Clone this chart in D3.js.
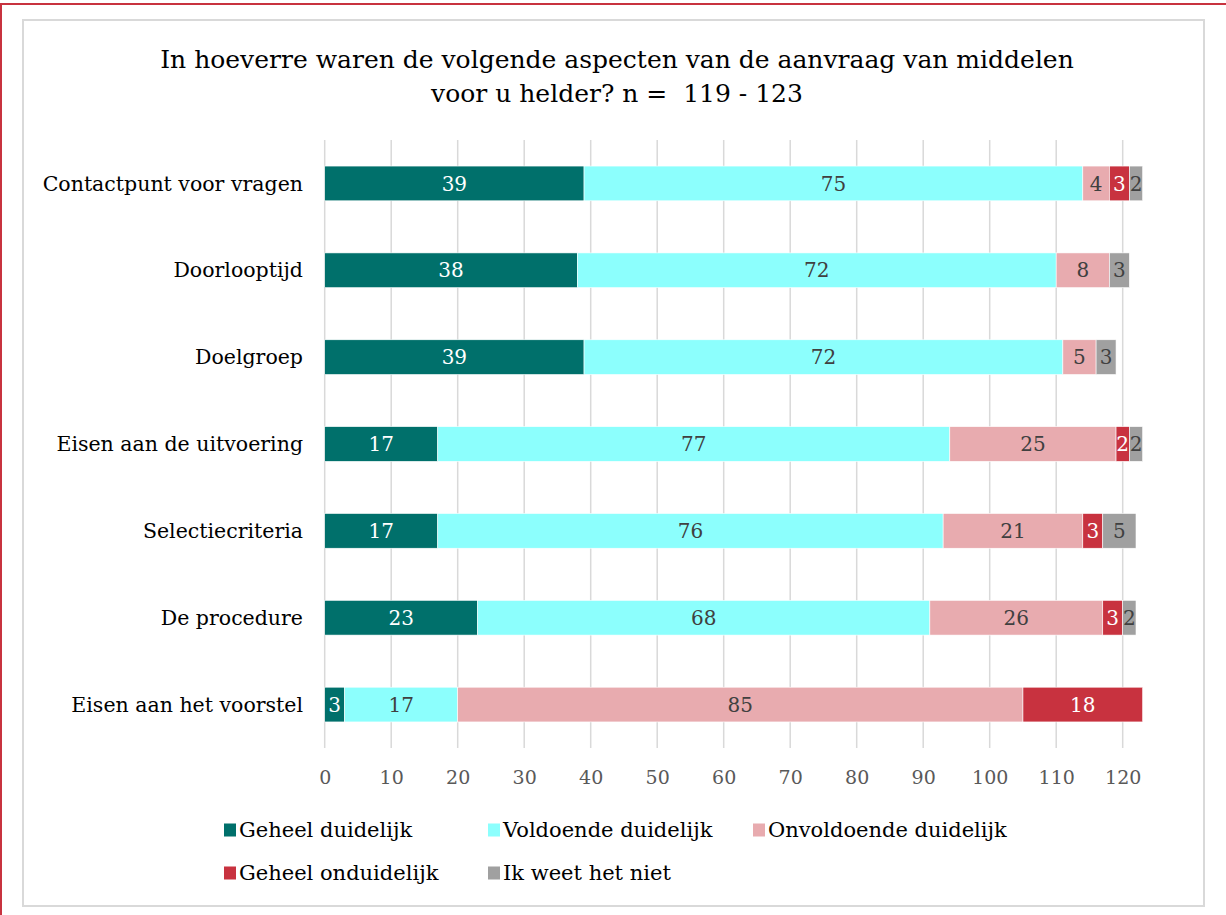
<!DOCTYPE html>
<html><head><meta charset="utf-8">
<script src="https://cdn.jsdelivr.net/npm/d3@7"></script>
<style>html,body{margin:0;padding:0;background:#fff;overflow:hidden}</style>
</head><body>
<svg id="c" width="1226" height="915"></svg>
<script>
const categories = ["Contactpunt voor vragen","Doorlooptijd","Doelgroep","Eisen aan de uitvoering","Selectiecriteria","De procedure","Eisen aan het voorstel"];
const seriesNames = ["Geheel duidelijk","Voldoende duidelijk","Onvoldoende duidelijk","Geheel onduidelijk","Ik weet het niet"];
const geheelDuidelijk     = [39,38,39,17,17,23,3];
const voldoendeDuidelijk  = [75,72,72,77,76,68,17];
const onvoldoendeDuidelijk= [4,8,5,25,21,26,85];
const geheelOnduidelijk   = [3,0,0,2,3,3,18];
const ikWeetHetNiet       = [2,3,3,2,5,2,0];
const xTicks = [0,10,20,30,40,50,60,70,80,90,100,110,120];
const titleLines = ["In hoeverre waren de volgende aspecten van de aanvraag van middelen","voor u helder? n =  119 - 123"];

const colors = ["#00706B","#8CFFFD","#E8ABAF","#C8323F","#A0A0A0"];
const labelColors = ["#ffffff","#404040","#404040","#ffffff","#404040"];
const FONT = "'DejaVu Serif', Georgia, serif";

const seriesVals = [geheelDuidelijk, voldoendeDuidelijk, onvoldoendeDuidelijk, geheelOnduidelijk, ikWeetHetNiet];
const rows = categories.map((c,i)=>{const o={cat:c}; seriesNames.forEach((s,j)=>o[s]=seriesVals[j][i]); return o;});
const stack = d3.stack().keys(seriesNames)(rows);

const svg = d3.select("#c");
svg.append("rect").attr("x",1).attr("y",4).attr("width",1260).attr("height",960).attr("fill","none").attr("stroke","#C8323F").attr("stroke-width",2);
svg.append("rect").attr("x",23).attr("y",20).attr("width",1181).attr("height",886).attr("fill","#fff").attr("stroke","#D9D9D9").attr("stroke-width",2);

svg.append("g").selectAll("text").data(titleLines).join("text")
  .attr("x",617).attr("y",(d,i)=>68+i*34).attr("text-anchor","middle")
  .style("white-space","pre")
  .attr("font-family",FONT).attr("font-size",25).attr("fill","#000").text(d=>d);

const x = d3.scaleLinear().domain([0,120]).range([324.7,1122.7]);
const y = d3.scaleBand().domain(categories).range([140,748]).paddingInner(0.6).paddingOuter(0.3);

svg.append("g").selectAll("line").data(xTicks).join("line")
  .attr("x1",d=>x(d)).attr("x2",d=>x(d)).attr("y1",140).attr("y2",748)
  .attr("stroke","#D9D9D9").attr("stroke-width",1.5);

const ax = svg.append("g").attr("transform","translate(0,770)")
  .call(d3.axisBottom(x).tickValues(xTicks).tickSize(0).tickPadding(0));
ax.select(".domain").remove();
ax.selectAll("text").attr("font-family",FONT).attr("font-size",19).attr("fill","#595959");

svg.append("g").selectAll("text").data(categories).join("text")
  .attr("x",303).attr("y",d=>y(d)+y.bandwidth()/2).attr("dy","0.35em").attr("text-anchor","end")
  .attr("font-family",FONT).attr("font-size",20.5).attr("fill","#000").text(d=>d);

const g = svg.append("g");
stack.forEach((layer,j)=>{
  const lg = g.append("g");
  lg.selectAll("rect").data(layer.filter(d=>d[1]-d[0]>0)).join("rect")
    .attr("x",d=>x(d[0])).attr("width",d=>x(d[1])-x(d[0]))
    .attr("y",d=>y(d.data.cat)).attr("height",y.bandwidth())
    .attr("fill",colors[j]).attr("stroke","#ffffff").attr("stroke-width",0.6);
  lg.selectAll("text").data(layer.filter(d=>d[1]-d[0]>0)).join("text")
    .attr("x",d=>(x(d[0])+x(d[1]))/2).attr("y",d=>y(d.data.cat)+y.bandwidth()/2).attr("dy","0.36em")
    .attr("text-anchor","middle").attr("font-family",FONT).attr("font-size",20)
    .attr("fill",labelColors[j]).text(d=>d[1]-d[0]);
});

const legPos = [[224,830],[488,830],[753,830],[224,873],[488,873]];
const leg = svg.append("g").selectAll("g").data(seriesNames).join("g")
  .attr("transform",(d,i)=>`translate(${legPos[i][0]},${legPos[i][1]})`);
leg.append("rect").attr("x",0).attr("y",-6.5).attr("width",12).attr("height",13).attr("fill",(d,i)=>colors[i]);
leg.append("text").attr("x",15).attr("dy","0.35em").attr("font-family",FONT).attr("font-size",21).attr("fill","#000").text(d=>d);
</script>
</body></html>
